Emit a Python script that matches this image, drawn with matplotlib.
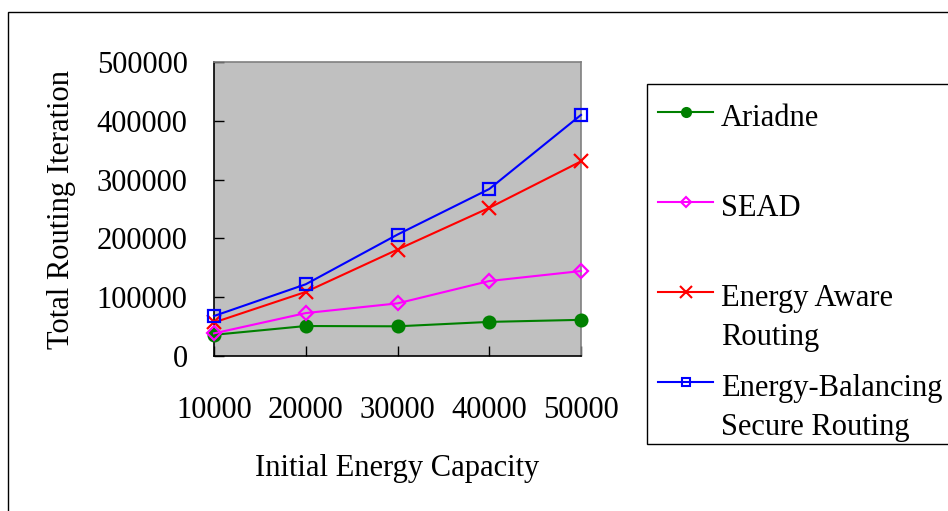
import matplotlib
matplotlib.use("Agg")
import matplotlib.pyplot as plt
from matplotlib.lines import Line2D
from matplotlib.patches import Rectangle

plt.rcParams['font.family'] = ['Liberation Serif', 'DejaVu Serif']

# ---- data ----
energy = [10000, 20000, 30000, 40000, 50000]
x_tick_labels = ["10000", "20000", "30000", "40000", "50000"]
y_ticks = [0, 100000, 200000, 300000, 400000, 500000]

ariadne = [36000, 51000, 50500, 58000, 61500]
sead = [38500, 73000, 89500, 127500, 144500]
energy_aware = [57000, 109000, 181000, 252000, 331000]
ebsr = [68000, 122000, 206500, 284000, 410000]

series_names = ["Ariadne", "SEAD", "Energy Aware\nRouting", "Energy-Balancing\nSecure Routing"]
series_values = [ariadne, sead, energy_aware, ebsr]
series_colors = ["#008000", "#FF00FF", "#FF0000", "#0000FF"]
series_markers = ["o", "D", "x", "s"]
marker_sizes = [8.5, 7, 9.5, 8]
legend_marker_sizes = [6.5, 5.5, 8.5, 5.5]
marker_filled = [True, False, False, False]

x_label = "Initial Energy Capacity"
y_label = "Total Routing Iteration"

# ---- figure ----
W, H = 948, 511
fig = plt.figure(figsize=(W / 100, H / 100), dpi=100)
fig.patch.set_facecolor("white")

def fx(px):
    return px / W

def fy(py):
    return 1 - py / H

# outer chart frame
fig.patches.append(Rectangle((fx(8), fy(520)), fx(960) - fx(8), fy(12) - fy(520),
                             transform=fig.transFigure, fill=False,
                             edgecolor="#000000", linewidth=1.0, clip_on=False))

ax = fig.add_axes([fx(214), fy(356), fx(581) - fx(214), fy(62) - fy(356)])
ax.set_facecolor("#C0C0C0")

for name, vals, col, mk, ms, filled in zip(series_names, series_values, series_colors,
                                           series_markers, marker_sizes, marker_filled):
    ax.plot(energy, vals, color=col, linewidth=1.5, marker=mk, markersize=ms,
            markerfacecolor=(col if filled else "none"), markeredgecolor=col,
            markeredgewidth=1.6, clip_on=False, zorder=3)

ax.set_xlim(energy[0], energy[-1])
ax.set_ylim(y_ticks[0], y_ticks[-1])
ax.set_xticks(energy)
ax.set_xticklabels(x_tick_labels)
ax.set_yticks(y_ticks)
ax.set_yticklabels([str(v) for v in y_ticks])

ax.tick_params(axis="both", direction="in", length=7, width=1, colors="black",
               labelsize=22)
ax.tick_params(axis="x", pad=29)
ax.tick_params(axis="y", pad=19)

for s in ["top", "right"]:
    ax.spines[s].set_color("#808080")
    ax.spines[s].set_linewidth(1.2)
for s in ["left", "bottom"]:
    ax.spines[s].set_color("#000000")
    ax.spines[s].set_linewidth(1.2)

ax.set_xlabel(x_label, fontsize=22, labelpad=21)
ax.set_ylabel(y_label, fontsize=22, labelpad=15)

# ---- legend (drawn manually to mimic the spreadsheet layout) ----
fig.patches.append(Rectangle((fx(647), fy(444)), fx(960) - fx(647), fy(84) - fy(444),
                             transform=fig.transFigure, fill=True, facecolor="white",
                             edgecolor="#000000", linewidth=1.0, clip_on=False))

handle_y = [112, 202, 292, 382]
baseline_y = [126, 216, 306, 396]
line_step = 39
for name, col, mk, ms, filled, hy, by in zip(series_names, series_colors, series_markers,
                                              legend_marker_sizes, marker_filled,
                                              handle_y, baseline_y):
    fig.lines.append(Line2D([fx(658), fx(713)], [fy(hy), fy(hy)], transform=fig.transFigure,
                            color=col, linewidth=1.5))
    fig.lines.append(Line2D([fx(685.5)], [fy(hy)], transform=fig.transFigure,
                            color=col, marker=mk, markersize=ms,
                            markerfacecolor=(col if filled else "none"),
                            markeredgecolor=col, markeredgewidth=1.5, linestyle="none"))
    for i, line in enumerate(name.split("\n")):
        fig.text(fx(721), fy(by + i * line_step), line, fontsize=22,
                 ha="left", va="baseline", color="black")

fig.savefig("out.png", dpi=100, facecolor="white")
